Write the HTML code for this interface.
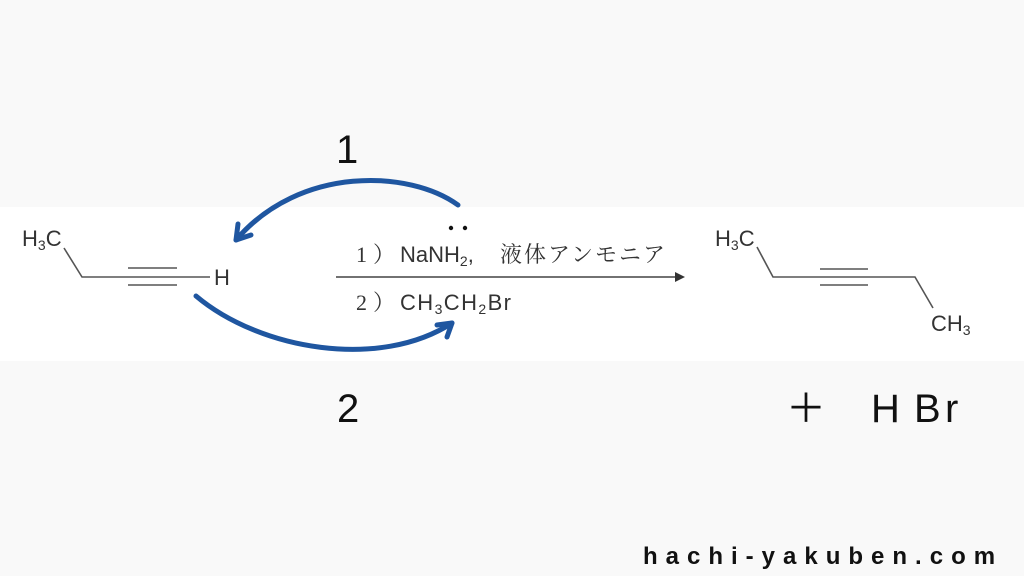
<!DOCTYPE html>
<html><head><meta charset="utf-8"><style>
body{margin:0;width:1024px;height:576px;background:#f9f9f9;overflow:hidden;position:relative;font-family:"Liberation Sans","Noto Sans CJK JP",sans-serif}
.band{position:absolute;left:0;top:207px;width:1024px;height:154px;background:#fff}
svg{position:absolute;left:0;top:0}
</style></head><body>
<div class="band"></div>
<svg width="1024" height="576" viewBox="0 0 1024 576">
<defs>
<marker id="a" markerWidth="10" markerHeight="10" refX="8" refY="5" orient="auto" markerUnits="userSpaceOnUse"><path d="M0,0 L10,5 L0,10 z" fill="#333"/></marker>
</defs>
<g stroke="#555" stroke-width="1.6" fill="none">
<polyline points="64,248 82,277 210,277"/>
<line x1="128" y1="268" x2="177" y2="268"/>
<line x1="128" y1="285" x2="177" y2="285"/>
<polyline points="757,247 773,277 915,277 933,308"/>
<line x1="820" y1="269" x2="868" y2="269"/>
<line x1="820" y1="285" x2="868" y2="285"/>
<line x1="336" y1="277" x2="683" y2="277" stroke="#444" marker-end="url(#a)"/>
</g>
<g font-size="22" fill="#333">
<text x="22" y="246">H<tspan font-size="14" dy="4">3</tspan><tspan dy="-4">C</tspan></text>
<text x="214" y="285">H</text>
<text x="715" y="246">H<tspan font-size="14" dy="4">3</tspan><tspan dy="-4">C</tspan></text>
<text x="931" y="331">CH<tspan font-size="14" dy="4">3</tspan></text>
</g>
<g font-size="22" fill="#333">
<text x="356" y="262" font-family="Liberation Serif,Noto Serif CJK SC,serif">1</text>
<text x="373" y="262" font-family="Noto Serif CJK SC,serif">）</text>
<text x="400" y="262">NaNH<tspan font-size="14" dy="4">2</tspan><tspan dy="-4">,</tspan></text>
<text x="500" y="262" font-family="Noto Serif CJK SC,serif" textLength="165">液体アンモニア</text>
<text x="356" y="310" font-family="Liberation Serif,Noto Serif CJK SC,serif">2</text>
<text x="373" y="310" font-family="Noto Serif CJK SC,serif">）</text>
<text x="400" y="310" textLength="111">CH<tspan font-size="14" dy="4">3</tspan><tspan dy="-4">CH</tspan><tspan font-size="14" dy="4">2</tspan><tspan dy="-4">Br</tspan></text>
</g>
<circle cx="451" cy="228" r="2.2" fill="#111"/><circle cx="465" cy="228" r="2.2" fill="#111"/>
<g stroke="#1f56a0" stroke-width="5" fill="none" stroke-linecap="round">
<path d="M458,205 C410,170 300,165 236,240"/>
<path d="M236,240 L238,224 M236,240 L251,235"/>
<path d="M196,296 C260,350 380,370 452,323"/>
<path d="M452,323 L437,325 M452,323 L447,337"/>
</g>
<g font-size="40" fill="#111">
<text x="336" y="163">1</text>
<text x="337" y="422">2</text>
<text x="786" y="422">＋</text>
<text x="871" y="422">H</text>
<text x="914" y="422">B</text>
<text x="945" y="422">r</text>
</g>
<text x="643" y="564" font-size="24" font-weight="bold" fill="#111" letter-spacing="8">hachi-yakuben.com</text>
</svg>
</body></html>
